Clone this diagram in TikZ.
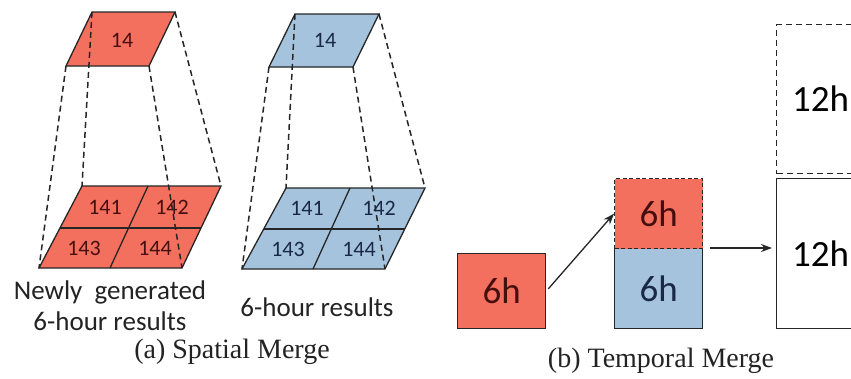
\documentclass[tikz,border=0pt]{standalone}
\usepackage{fontspec}
\setmainfont{Liberation Serif}
\newfontfamily\calfont{Carlito}
\usetikzlibrary{arrows.meta}
\definecolor{cellred}{RGB}{244,112,94}
\definecolor{cellblue}{RGB}{166,195,221}
\definecolor{redink}{RGB}{70,15,15}
\definecolor{blueink}{RGB}{25,40,70}
\definecolor{ink}{RGB}{35,35,35}
\begin{document}
\begin{tikzpicture}[x=1pt,y=-1pt,
  cell/.style={draw=black!85, line width=1.3pt, line join=miter},
  proj/.style={draw=black!85, line width=1.5pt, dash pattern=on 6pt off 4pt},
  lbl/.style={font=\calfont\fontsize{22}{22}\selectfont, inner sep=0pt, anchor=base},
  note/.style={font=\calfont\fontsize{27}{27}\selectfont, text=ink, inner sep=0pt, anchor=base},
  caption/.style={font=\fontsize{28}{28}\selectfont, text=ink, inner sep=0pt, anchor=base},
  box/.style={draw=black!85, line width=1.3pt, inner sep=0pt, anchor=north west,
    minimum width=88pt, font=\calfont\fontsize{37}{37}\selectfont},
  link/.style={draw=black!85, line width=1.3pt, -{Stealth[length=11pt,width=8pt]}}]
\clip (0,0) rectangle (851,378);
\fill[white] (0,0) rectangle (851,378);

% ---------- (a) spatial merge, new results (red) ----------
\filldraw[cell, fill=cellred] (92,12) -- (175,12) -- (149,66) -- (66,66) -- cycle;
\filldraw[cell, fill=cellred] (82,186) -- (221,186) -- (182,268) -- (39,268) -- cycle;
\draw[cell] (60,228) -- (201,228);
\draw[cell] (148,186) -- (110,268);
\node[lbl, text=redink] (r14) at (122,47) {14};
\node[lbl, text=redink] (r141) at (105,214) {141};
\node[lbl, text=redink] (r142) at (172,214) {142};
\node[lbl, text=redink] (r143) at (84,255) {143};
\node[lbl, text=redink] (r144) at (155,255) {144};
\draw[proj] (92,12) -- (82,186);
\draw[proj] (175,12) -- (221,186);
\draw[proj] (66,66) -- (39,268);
\draw[proj] (149,66) -- (182,268);
\node[note] (rnote1) at (110,299) {Newly\ \ generated};
\node[note] (rnote2) at (110,330) {6-hour results};

% ---------- (a) spatial merge, earlier results (blue) ----------
\filldraw[cell, fill=cellblue] (295,14) -- (379,14) -- (353,67) -- (269,67) -- cycle;
\filldraw[cell, fill=cellblue] (286,188) -- (425,188) -- (385,269) -- (242,269) -- cycle;
\draw[cell] (264,229) -- (405,229);
\draw[cell] (350,188) -- (313,269);
\node[lbl, text=blueink] (b14) at (325,47) {14};
\node[lbl, text=blueink] (b141) at (307,215) {141};
\node[lbl, text=blueink] (b142) at (379,215) {142};
\node[lbl, text=blueink] (b143) at (288,256) {143};
\node[lbl, text=blueink] (b144) at (359,256) {144};
\draw[proj] (295,14) -- (286,188);
\draw[proj] (379,14) -- (425,188);
\draw[proj] (269,67) -- (242,269);
\draw[proj] (353,67) -- (385,269);
\node[note] (bnote) at (317,316) {6-hour results};

\node[caption] (capa) at (232,358) {(a) Spatial Merge};

% ---------- (b) temporal merge ----------
\node[box, fill=cellred, text=redink, minimum height=75pt] (new6) at (457,253) {6h};
\node[box, fill=cellblue, text=blueink, minimum height=80pt] (old6) at (614,248) {6h};
\node[box, fill=cellred, text=redink, minimum height=70pt, dash pattern=on 4pt off 2.5pt] (top6) at (614,178) {6h};
\node[box, minimum height=149pt, dash pattern=on 6pt off 4pt] (half12) at (776,24) {12h};
\node[box, minimum height=150pt] (full12) at (776,178) {12h};

\draw[link, shorten <=3pt] (new6.east) -- (top6.west);
\draw[link, shorten <=7pt, shorten >=4pt] (old6.north east) -- (old6.north east -| full12.west);

\node[caption] (capb) at (661,367) {(b) Temporal Merge};
\end{tikzpicture}
\end{document}
